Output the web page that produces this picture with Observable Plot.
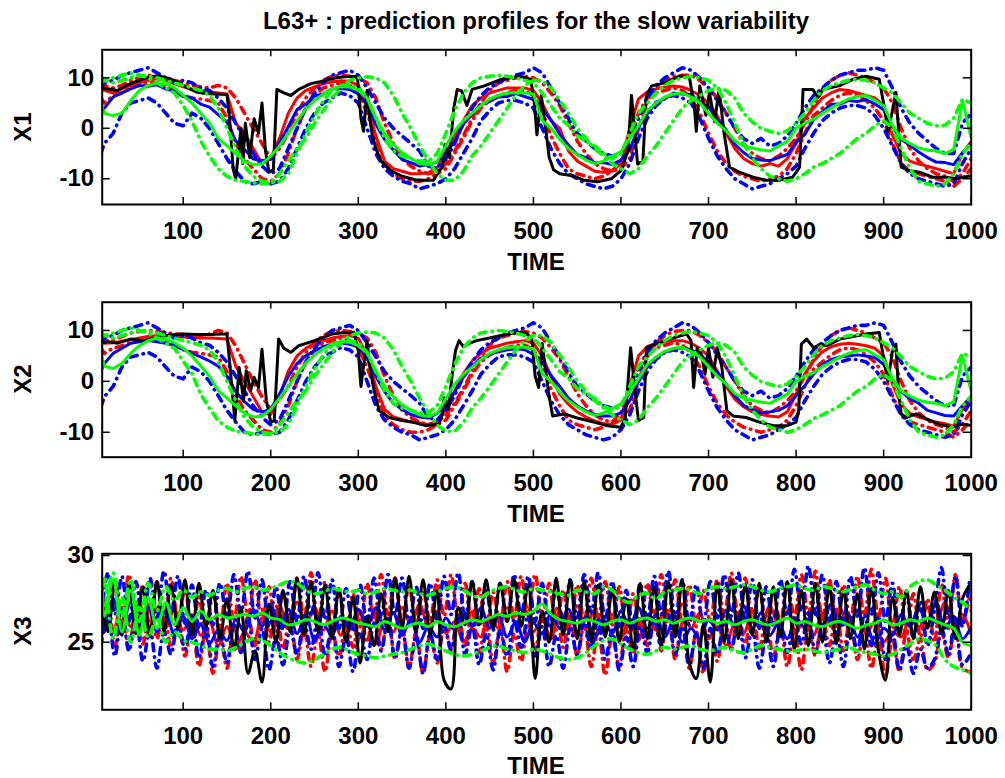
<!DOCTYPE html>
<html><head><meta charset="utf-8">
<script src="https://cdn.jsdelivr.net/npm/d3@7"></script>
<script src="https://cdn.jsdelivr.net/npm/@observablehq/plot@0.6"></script>
<style>
body{margin:0;background:#fff;}
#chart{position:relative;width:1005px;height:778px;font-family:"Liberation Sans",Arial,sans-serif;font-weight:bold;color:#000;overflow:hidden;}
.pl{position:absolute;left:0;}
.t{position:absolute;white-space:nowrap;font-size:24px;line-height:1;transform:translate(-50%,-50%);}
.yl{transform:translate(-50%,-50%) rotate(-90deg);}
</style></head><body>
<div id="chart">
  <div class="pl" id="p1" style="top:40px"></div>
  <div class="pl" id="p2" style="top:292px"></div>
  <div class="pl" id="p3" style="top:534px"></div>
  <div class="t" style="left:536px;top:21px">L63+ : prediction profiles for the slow variability</div>
  <div class="t yl" style="left:23px;top:127px">X1</div>
  <div class="t yl" style="left:23px;top:379px">X2</div>
  <div class="t yl" style="left:23px;top:631px">X3</div>
  <div class="t" style="left:536px;top:262px">TIME</div>
  <div class="t" style="left:536px;top:514px">TIME</div>
  <div class="t" style="left:536px;top:766px">TIME</div>
</div>
<script>
// ---------- tick labels ----------
const timeTicks = [100, 200, 300, 400, 500, 600, 700, 800, 900, 1000];
const x12Ticks = [-10, 0, 10];
const x3Ticks = [25, 30];

// sampling grids (times) of the prediction curves
const grid10 = [6, ...d3.range(10, 1001, 10)];
const grid8 = d3.range(6, 1001, 8);

// ---------- X1 ----------
const x1Truth = [[6,8],[15,7.8],[25,7.5],[35,8.5],[45,9.2],[55,9.8],[65,10.3],[75,10.2],[85,9.8],[95,9],[105,8],[115,7.2],[125,6.9],[135,6.8],[150,6.7],[153,2],[157,-8],[160,-10],[163,-5],[166,0],[168,-7],[171,1],[176,-5.8],[181,1.9],[186,-1],[190,5],[194,-4.5],[198,-8.7],[203,-8.2],[207,7.7],[215,7],[223,6.5],[232,7.7],[245,8.8],[260,9.4],[275,10],[290,10.3],[299,10.2],[303,2],[306,-0.6],[310,7.5],[313,2],[316,-1.3],[320,-4],[326,-6.5],[337,-8.4],[350,-9.5],[365,-10.2],[375,-10.3],[386,-10.3],[392,-8.5],[396,-7.7],[399,-3.2],[404,-5.8],[409,3.9],[413,7.7],[418,7.4],[424,4.5],[430,7.7],[444,8.4],[463,9.7],[485,10.3],[497,9.7],[501,5],[504,-1.3],[509,6.5],[514,0],[518,-5.8],[523,-8.2],[530,-9],[545,-9.4],[558,-10.3],[573,-10.6],[589,-10],[600,-8.4],[608,-4.5],[612,6.5],[616,-1.3],[619,-7.1],[625,-6.5],[629,6.5],[635,8.4],[650,9],[666,10.3],[678,10.3],[684,3.9],[686,-0.6],[690,8.4],[697,2.6],[701,7.1],[707,1.3],[712,7.7],[718,-1.3],[724,-7.7],[735,-8.7],[751,-9.7],[766,-10.3],[781,-10.3],[796,-9.7],[804,-7.7],[808,7.7],[819,7.7],[825,6.1],[830,7.7],[849,8.4],[865,9.7],[880,10.3],[895,9.7],[901,3.9],[905,-0.6],[909,2.6],[914,7.1],[920,-7.7],[930,-8.4],[941,-8.7],[956,-9.7],[971,-9.7],[983,-10],[1000,-9.4]];

const x1RedMean = [8,
 7.5, 7, 7.8, 8.5, 9, 9.5, 9.8, 9.5, 8.8, 8.2,
 7.8, 7.5, 7.2, 7, 6.8, 1, -1, -4, -7, -6,
 -2, 3, 6, 7.5, 8.2, 8.8, 9.2, 9.4, 9.3, 8.5,
 5, -1.5, -6.5, -8, -8.5, -9, -9, -8.8, -7.8, -5,
 -1.5, 1.5, 4.5, 6, 7, 7.5, 8, 8, 8, 7.5,
 5, 1.5, 0, -4.5, -6.5, -7.5, -8.5, -8.7, -8.5, -7,
 0, 5.8, 7.2, 7.8, 8.2, 8.4, 8.2, 7.5, 6.5, 5,
 2.5, -1, -4, -6, -7, -7.5, -7, -7.5, -6, -3,
 2, 4, 6, 7, 7.7, 7.5, 7, 6.5, 6, 4.5,
 -1.3, -5, -6.5, -7.1, -7.5, -8, -8.5, -9, -5, -2.6];
const x1RedHigh = [9,
 8.5, 8, 8.5, 9.5, 10, 10.5, 10.3, 10, 9.5, 9,
 8.5, 8.2, 8, 8.5, 8, 6, 3, 0, -3, -6,
 -4, -1, 3, 6, 8, 9.5, 10.3, 10.5, 10.3, 10,
 9, 6, 1, -3, -6, -7.5, -8.5, -9, -8.5, -7,
 -4.5, -1.5, 2, 5, 7.5, 9, 9.5, 10, 10.3, 10,
 9, 7, 4.5, 1, -2.5, -5, -7, -8, -8.5, -8,
 -6, 0, 5, 8, 9.5, 10.3, 10.5, 10.5, 9.5, 8,
 6, 3, 0, -3, -5, -6, -6.5, -5.5, -4, -2,
 1, 4.5, 7.5, 9.5, 10.5, 11, 10.5, 10, 9, 8,
 5, 0, -4, -6.5, -8, -9, -9.5, -10.5, -9, -6];
const x1RedLow = [6,
 5, 6.5, 7, 8, 8.5, 9, 9, 8.5, 7.5, 6.5,
 6, 5.8, 5.5, 5, 2, -3, -6, -8, -10, -10.5,
 -9, -5, 0, 4, 6.5, 8, 8.5, 9, 8.5, 7,
 3, -2, -7, -9, -10, -10.5, -10.5, -10, -9, -8,
 -5, -2, 1.5, 4, 5.5, 6.5, 7, 7.5, 7.5, 6.5,
 3.5, -1.5, -5, -8, -9, -9.5, -10, -9.5, -8.5, -6.5,
 -2, 3, 6, 7, 7.5, 8, 7.5, 6, 3, -1,
 -4.5, -7, -8.5, -9.5, -10, -10.5, -10, -9.5, -8, -5,
 -1, 2.5, 4, 5.5, 6.5, 7, 6.5, 5.5, 4, 1.5,
 -3, -7, -8.5, -9, -9.5, -10, -10.5, -11.5, -10, -8];
const x1BlueMean = [3,
 4, 6.2, 7, 7.8, 8.5, 8.3, 8.6, 7.8, 7.4, 6.3,
 6, 4.8, 4.2, 2.7, 1.2, -2.5, -4.2, -6.1, -6.4, -6.2,
 -2.8, 0.3, 3.7, 4.8, 6.4, 6.8, 7.8, 7.9, 7.7, 6.8,
 4.7, 0.8, -2.2, -4.3, -6.2, -6.8, -7.5, -7.2, -6.7, -4.8,
 -2.7, 0.8, 2.8, 4.7, 5.3, 6.2, 6.3, 6.9, 6.3, 5.7,
 3.8, 1.7, -1.2, -3.3, -5.2, -5.8, -6.9, -6.8, -7.2, -6.3,
 -4.2, 0.2, 2.8, 5.2, 5.8, 7, 6.8, 6.7, 5.3, 4.2,
 1.8, -0.3, -3.2, -4.8, -6, -6.3, -6.4, -5.8, -5.2, -2.8,
 -1.2, 1.7, 3.3, 4.7, 4.8, 5.5, 5.3, 5.7, 4.8, 3.7,
 0.3, -2.2, -3.3, -4.7, -5.8, -6.7, -6.8, -7.2, -4.8, -3.2];
const x1BlueHigh = [8,
 9, 9.5, 10.5, 11, 11.5, 12, 11, 10, 9, 9.5,
 9, 8, 7.5, 6, 4, 1, -2, -5, -7.5, -9,
 -8, -4, 0, 4, 7, 9, 10.5, 11, 11.5, 10.5,
 8, 5, 2, 0, -1.5, -3, -4.5, -7.5, -8, -6,
 -3, 1, 4, 6.5, 8, 9, 10, 10.5, 11, 12,
 11, 8, 5, 2, -1, -2.5, -4, -5, -5.5, -5,
 -2, 2, 6, 8.5, 10, 11, 12, 11.5, 10, 8,
 5.5, 3, 0, -2, -3, -2, -3.5, -3, -1.5, 1,
 4, 6.5, 8, 9.5, 10.5, 11, 11.5, 11.5, 12, 11.5,
 8, 4, 1, -1, -2.5, -4, -5, -5, 1, 3];
const x1BlueLow = [-5,
 -3, -1, 3, 5, 5.5, 6, 5, 3, 1, 0.5,
 3, 2, 0, -3, -6, -8.5, -10.5, -11, -10.5, -11,
 -10.5, -8, -4, 0, 3, 5, 6, 7, 6.5, 5,
 0, -5, -8, -9.5, -10.5, -11, -12, -11.5, -11, -10,
 -8, -5, -2, 1.5, 3.5, 5, 5.5, 5.5, 5, 4,
 0, -4, -7, -9, -10, -11, -11.5, -12, -11.5, -10,
 -7, -2, 2, 4.5, 6, 6.5, 6, 5, 2, -2,
 -5.5, -8, -10, -11, -12, -11.5, -11, -10, -9, -7.5,
 -4, -1, 1.5, 3, 4, 4.5, 4.5, 4, 2.5, 0,
 -3.5, -7, -9, -10, -10.5, -11, -11.5, -11, -7, -4];
const x1GreenMean = [5,
 3, 2.5, 3, 5.5, 7.5, 8.5, 9, 8.8, 8, 6.5,
 5, 3, 1, -2, -3.5, -5, -6.5, -7.2, -7, -5.5,
 -3.5, -1, 1.5, 3.8, 5.5, 6.8, 7.8, 8.3, 8.2, 7.5,
 6, 2, -1, -3.2, -4.8, -6, -7, -7.2, -6.5, -3.5,
 -0.5, 1.5, 3, 4.5, 5.8, 6.5, 7, 7.1, 7, 6.8,
 1.5, 0, -2.2, -4, -5.2, -6.3, -7, -6.5, -5.5, -4.6,
 -2, 0.5, 3.5, 5, 6.2, 6.8, 7, 6.2, 5, 3,
 1, -0.5, -2.5, -3.5, -3.9, -4.3, -4.5, -3.5, -2.6, 0,
 1, 1.8, 3, 4, 5, 5.8, 6.3, 6.5, 5.5, 4.5,
 0.6, -2, -3, -3.9, -4.3, -4.5, -5, -4.2, 5.5, -2];
const x1GreenHigh = [9,
 9.5, 10, 10.5, 11, 10.5, 10, 9, 8, 7, 4.5,
 1.5, -2.5, -5.5, -8, -9.5, -10.3, -10.5, -10.8, -11, -10.8,
 -9, -6.5, -4, -2, 1, 3.5, 6, 8, 9.5, 10,
 10.2, 10, 9, 6.5, 3, 0, -3.5, -6.5, -9, -10.3,
 -10.3, -8.5, -5.5, -3.5, -1, 1.5, 4, 6.5, 8.5, 9.5,
 9.5, 8, 5.5, 3, 0, -2, -4, -5.5, -7, -8,
 -9, -8, -5.5, -3.5, -1, 1.5, 4, 5.5, 6.5, 7.5,
 8, 7.5, 6, 3, 1.3, 0, -0.6, -1, -0.5, 1,
 3, 5.5, 7.5, 8.5, 9, 9.5, 9.7, 9.5, 9, 8,
 7, 5, 3, 2, 1, 0.5, 0.6, 2, 5.8, 5];
const x1GreenLow = [10,
 9.5, 9, 9.5, 10, 10.5, 10.3, 10, 9.5, 9, 8.5,
 8, 7.5, 6.5, 4, 0, -4, -7.5, -9.5, -10.5, -10.8,
 -10.5, -9, -5, -1, 2.5, 5.5, 7.5, 8.5, 8.5, 8,
 6, 2, -2, -4.5, -5.5, -6, -6.5, -6.5, -5, -1,
 3.5, 7, 9, 10, 10.3, 10.5, 10.3, 10, 9.5, 9,
 7, 4.5, 2, 0.6, -1.5, -2.6, -3.5, -5, -6, -5,
 -1, 3, 5, 7, 8.5, 9.5, 10, 10.3, 10, 9.5,
 8, 5, 1, -3, -6, -8, -9.5, -10, -10.5, -10,
 -9, -7.7, -7, -6, -5, -3.5, -2, -1, 0.5, 1.5,
 0, -4, -8, -10.5, -11, -11.5, -11, -9, -5, -3];

// ---------- X2 ----------
const x2Truth = [[6,7.5],[15,7.8],[25,7.5],[40,8.3],[55,8],[70,8.6],[85,9.1],[100,9.3],[115,9.2],[130,9.2],[145,9.3],[150,9.3],[154,2],[159,-7.7],[164,2.7],[169,-3.8],[172,2.1],[177,-1.8],[181,0.8],[186,-1.2],[190,6.3],[195,-3.8],[200,-8],[204,-7.7],[209,8.3],[215,6.5],[223,5.7],[232,7],[250,8],[270,9.3],[285,9.6],[295,9.6],[300,6],[303,-1],[306,3],[310,8],[313,3],[318,-1.8],[324,-5.8],[335,-7.1],[350,-7.7],[362,-8],[377,-8.7],[392,-8.4],[396,-6.5],[398,-3.2],[403,-5.4],[407,1],[411,6],[415,8],[420,6.8],[426,7.4],[435,8],[450,8.5],[463,9],[480,9.6],[490,9.6],[498,8.6],[502,1],[506,-1.2],[510,7.5],[514,2],[518,-3],[522,-6.8],[535,-6.4],[550,-7.2],[569,-8],[584,-8.7],[600,-9],[605,-7.1],[611,6.6],[616,-1.8],[620,-7.7],[626,-7.1],[629,6.6],[635,7],[650,8],[665,8.8],[675,9.3],[680,8],[683,-1.2],[687,6.6],[692,5.3],[696,1.4],[700,6.6],[705,0.8],[710,6.6],[715,3],[721,-5.8],[728,-6.8],[743,-7.1],[758,-8],[774,-8.7],[790,-8.7],[800,-8],[803,-5.8],[806,7.3],[812,8.3],[820,6.6],[827,7.3],[835,7],[850,8.3],[865,8.8],[880,9.3],[895,9.6],[901,3.4],[905,0],[910,5.9],[914,7.3],[917,-2],[920,-6.4],[926,-7.1],[937,-6.4],[948,-7.3],[963,-8.4],[979,-9],[990,-8.4],[1000,-8.7]];

const x2RedMean = [8,
 7.5, 7.6, 7.9, 8.2, 8.5, 8.8, 9, 9, 8.8, 8.7,
 8.6, 8.5, 8.5, 8.4, 8.3, 3, 0, -3, -6, -6.5,
 -3, 2, 5, 6.5, 7.5, 8, 8.5, 8.8, 9, 8.5,
 5, -1, -5.5, -7, -7.5, -8, -8.2, -8.5, -7.8, -5.5,
 -2, 1.5, 4, 5.5, 6.5, 7, 7.5, 7.8, 8, 7.5,
 5, 1, -2.5, -4.5, -6, -7, -7.8, -8.3, -8.5, -7.5,
 -1, 5, 6.8, 7.5, 7.8, 8, 8, 7.5, 6.5, 5,
 2, -1, -3.5, -5, -6, -6.5, -6.8, -7, -6, -2.5,
 1.5, 4, 5.8, 6.8, 7.3, 7.5, 7.3, 7, 6.5, 5,
 -0.5, -4.5, -6.3, -7, -7.5, -8, -8.3, -8.8, -5.5, -3];
const x2RedHigh = [8.5,
 8, 8.2, 8.8, 9.5, 9.8, 10, 9.8, 9.6, 9.3, 9.2,
 9, 9, 9.3, 10, 9.5, 7, 3.5, 0, -3, -5.5,
 -3.5, -1, 2.8, 5.7, 7.6, 9, 9.8, 10, 9.8, 9.5,
 8.5, 5.7, 1, -2.8, -5.7, -7.1, -8, -8.5, -8, -6.6,
 -4.3, -1.4, 1.9, 4.8, 7.1, 8.5, 9, 9.5, 9.8, 9.5,
 8.5, 6.6, 4.3, 1, -2.4, -4.8, -6.6, -7.6, -8, -7.6,
 -5.7, 0, 4.8, 7.6, 9, 9.8, 10, 10, 9, 7.6,
 5.7, 2.8, 0, -2.8, -4.8, -5.7, -6.2, -5.2, -3.8, -1.9,
 1, 4.3, 7.1, 9, 10, 10.5, 10, 9.5, 8.5, 7.6,
 4.8, 0, -3.8, -6.2, -7.6, -8.5, -9, -10, -8.5, -5.7];
const x2RedLow = [6.5,
 5.5, 6.5, 7, 7.6, 8, 8.5, 8.5, 8, 7.1, 6.2,
 5.7, 5.5, 5.2, 4.8, 1.9, -2.8, -5.7, -7.6, -9.5, -10,
 -8.5, -4.8, 0, 3.8, 6.2, 7.6, 8, 8.5, 8, 6.6,
 2.8, -1.9, -6.6, -8.5, -9.5, -10, -10, -9.5, -8.5, -7.6,
 -4.8, -1.9, 1.4, 3.8, 5.2, 6.2, 6.6, 7.1, 7.1, 6.2,
 3.3, -1.4, -4.8, -7.6, -8.5, -9, -9.5, -9, -8, -6.2,
 -1.9, 2.8, 5.7, 6.6, 7.1, 7.6, 7.1, 5.7, 2.8, -1,
 -4.3, -6.6, -8, -9, -9.5, -10, -9.5, -9, -7.6, -4.8,
 -1, 2.4, 3.8, 5.2, 6.2, 6.6, 6.2, 5.2, 3.8, 1.4,
 -2.8, -6.6, -8, -8.5, -9, -9.5, -10, -11, -9.5, -7.6];
const x2BlueMean = [2,
 3.5, 5.5, 6.5, 7.5, 7.8, 8, 7.8, 7.5, 7, 6.3,
 5.5, 4.8, 4, 3, 1, -2, -4, -5.5, -6, -5.5,
 -2.5, 1, 3.5, 5, 6, 6.8, 7.3, 7.6, 7.3, 6.8,
 4.5, 1, -2, -4.3, -5.5, -6.5, -7, -7.2, -6.3, -4.8,
 -2, 0.8, 3, 4.5, 5.3, 5.8, 6.2, 6.4, 6.2, 5.3,
 3.8, 1.2, -1, -3.3, -4.8, -5.8, -6.5, -6.8, -6.8, -6.2,
 -3.8, 0, 2.8, 4.7, 5.7, 6.4, 6.6, 6.2, 5.3, 3.8,
 1.8, -0.5, -2.8, -4.7, -5.5, -6.2, -6, -5.7, -4.8, -2.8,
 -0.8, 1.4, 3.3, 4.3, 4.8, 5, 5.2, 5, 4.7, 3.3,
 0.4, -2, -3.4, -4.3, -5.7, -6.2, -6.7, -6.8, -4.8, -3];
const x2BlueHigh = [7.5,
 8.5, 9, 10, 10.5, 11, 11.5, 10.5, 9.5, 8.5, 9,
 8.5, 7.6, 7.1, 5.7, 3.8, 1, -1.9, -4.8, -7.1, -8.5,
 -7.6, -3.8, 0, 3.8, 6.6, 8.5, 10, 10.5, 11, 10,
 7.6, 4.8, 1.9, 0, -1.4, -2.8, -4.3, -7.1, -7.6, -5.7,
 -2.8, 1, 3.8, 6.2, 7.6, 8.5, 9.5, 10, 10.5, 11.5,
 10.5, 7.6, 4.8, 1.9, -1, -2.4, -3.8, -4.8, -5.2, -4.8,
 -1.9, 1.9, 5.7, 8, 9.5, 10.5, 11.5, 11, 9.5, 7.6,
 5.2, 2.8, 0, -1.9, -2.8, -1.9, -3.3, -2.8, -1.4, 1,
 3.8, 6.2, 7.6, 9, 10, 10.5, 11, 11, 11.5, 11,
 7.6, 3.8, 1, -1, -2.4, -3.8, -4.8, -4.8, 1, 2.8];
const x2BlueLow = [-5,
 -3, -1, 2.8, 4.8, 5.2, 5.7, 4.8, 2.8, 1, 0.5,
 2.8, 1.9, 0, -2.8, -5.7, -8, -10, -10.5, -10, -10.5,
 -10, -7.6, -3.8, 0, 2.8, 4.8, 5.7, 6.6, 6.2, 4.8,
 0, -4.8, -7.6, -9, -10, -10.5, -11.5, -11, -10.5, -9.5,
 -7.6, -4.8, -1.9, 1.4, 3.3, 4.8, 5.2, 5.2, 4.8, 3.8,
 0, -3.8, -6.6, -8.5, -9.5, -10.5, -11, -11.5, -11, -9.5,
 -6.6, -1.9, 1.9, 4.3, 5.7, 6.2, 5.7, 4.8, 1.9, -1.9,
 -5.2, -7.6, -9.5, -10.5, -11.5, -11, -10.5, -9.5, -8.5, -7.1,
 -3.8, -1, 1.4, 2.8, 3.8, 4.3, 4.3, 3.8, 2.4, 0,
 -3.3, -6.6, -8.5, -9.5, -10, -10.5, -11, -10.5, -6.6, -3.8];
const x2GreenMean = [5.5,
 3, 2.5, 3.5, 5.5, 7, 8, 8.5, 8.3, 7.6, 6.5,
 5, 3, 1, -1.8, -3.3, -4.8, -6.2, -7, -6.8, -5.5,
 -3.3, -1, 1.4, 3.6, 5.2, 6.4, 7.3, 7.8, 7.7, 7,
 5.6, 2, -1, -3, -4.6, -5.7, -6.6, -6.9, -6.2, -3.4,
 -0.5, 1.4, 2.8, 4.3, 5.5, 6.2, 6.6, 6.8, 6.7, 6.4,
 1.5, 0, -2.1, -3.8, -5, -6, -6.7, -6.2, -5.3, -4.4,
 -2, 0.5, 3.3, 4.8, 5.9, 6.5, 6.7, 5.9, 4.8, 2.9,
 1, -0.5, -2.4, -3.3, -3.7, -4.1, -4.3, -3.4, -2.5, 0,
 1, 1.7, 2.9, 3.8, 4.8, 5.5, 6, 6.2, 5.2, 4.3,
 0.6, -1.9, -2.9, -3.7, -4.1, -4.3, -4.8, -4, 5, -2];
const x2GreenHigh = [9.5,
 9, 9.5, 10, 10.5, 10, 9.5, 8.5, 7.5, 6.5, 4,
 1.5, -2.5, -5.3, -7.7, -9, -9.8, -10, -10.3, -10.5, -10.3,
 -8.6, -6.2, -3.8, -1.9, 1, 3.3, 5.7, 7.6, 9, 9.5,
 9.7, 9.5, 8.5, 6.2, 2.9, 0, -3.3, -6.2, -8.6, -9.8,
 -9.8, -8.1, -5.2, -3.3, -1, 1.4, 3.8, 6.2, 8, 9,
 9, 7.6, 5.2, 2.8, 0, -1.9, -3.8, -5.2, -6.6, -7.6,
 -8.5, -7.6, -5.2, -3.3, -1, 1.4, 3.8, 5.2, 6.2, 7.1,
 7.6, 7.1, 5.7, 2.9, 1.2, 0, -0.6, -1, -0.5, 1,
 2.9, 5.2, 7.1, 8, 8.5, 9, 9.2, 9, 8.5, 7.6,
 6.6, 4.8, 2.9, 1.9, 1, 0.5, 0.6, 1.9, 5.5, 4.8];
const x2GreenLow = [9.5,
 9, 8.5, 9, 9.5, 10, 9.8, 9.5, 9, 8.5, 8,
 7.6, 7.1, 6.2, 3.8, 0, -3.8, -7.1, -9, -10, -10.3,
 -10, -8.5, -4.8, -1, 2.4, 5.2, 7.1, 8, 8, 7.6,
 5.7, 1.9, -1.9, -4.3, -5.2, -5.7, -6.2, -6.2, -4.8, -1,
 3.3, 6.6, 8.5, 9.5, 9.8, 10, 9.8, 9.5, 9, 8.5,
 6.6, 4.3, 1.9, 0.6, -1.4, -2.5, -3.3, -4.8, -5.7, -4.8,
 -1, 2.9, 4.8, 6.6, 8, 9, 9.5, 9.8, 9.5, 9,
 7.6, 4.8, 1, -2.9, -5.7, -7.6, -9, -9.5, -10, -9.5,
 -8.5, -7.3, -6.6, -5.7, -4.8, -3.3, -1.9, -1, 0.5, 1.4,
 0, -3.8, -7.6, -10, -10.5, -11, -10.5, -8.5, -4.8, -2.9];

// ---------- X3 ----------
const x3Truth = [27.8, 25.6, 28.3, 25.4, 28.4, 25.5, 28.2, 25.3, 28.5, 25.6,
 28.3, 25.8, 28.6, 25.4, 28.4, 25.9, 28.0, 25.2, 27.5, 24.6,
 27.0, 23.2, 24.5, 22.7, 27.2, 25.0, 28.0, 25.6, 28.7, 25.4,
 28.5, 25.6, 28.3, 25.2, 28.1, 25.0, 27.6, 23.8, 26.5, 24.8,
 27.8, 25.6, 28.7, 25.8, 28.8, 25.6, 28.6, 25.4, 28.0, 22.8,
 22.3, 27.0, 26.0, 28.5, 26.0, 28.6, 25.8, 28.4, 26.2, 28.6,
 25.9, 28.3, 22.9, 26.8, 25.0, 28.7, 25.4, 28.6, 25.2, 28.5,
 25.0, 28.3, 25.3, 28.0, 25.0, 27.5, 24.6, 28.4, 25.2, 28.2,
 24.8, 28.5, 25.3, 28.6, 23.8, 22.9, 26.0, 22.7, 28.4, 25.0,
 28.6, 25.2, 28.3, 25.4, 28.4, 25.0, 28.2, 25.3, 28.5, 24.6,
 28.0, 24.8, 28.4, 25.0, 28.2, 24.9, 28.0, 25.2, 27.8, 24.6,
 28.1, 24.5, 22.8, 27.6, 25.4, 28.0, 25.2, 28.2, 25.8, 27.9,
 25.5, 28.0, 25.2, 27.5, 28.3];
const x3RedMean = [28.0,
 26.8, 25.6, 27.4, 25.9, 27.2, 25.5, 27.0, 25.8, 26.9, 25.7,
 26.6, 25.4, 26.2, 24.8, 25.9, 24.6, 25.6, 25.0, 26.4, 25.6,
 27.1, 25.8, 27.3, 26.0, 27.0, 25.7, 26.8, 25.4, 26.5, 25.2,
 26.0, 24.9, 26.3, 25.6, 27.0, 26.0, 27.2, 25.9, 26.8, 25.5,
 26.2, 25.0, 25.8, 25.3, 26.6, 25.8, 27.0, 26.1, 26.9, 25.6,
 26.4, 25.2, 26.8, 25.9, 27.1, 25.8, 26.9, 25.6, 26.6, 25.3,
 26.0, 25.1, 26.5, 25.7, 26.9, 25.9, 27.2, 25.8, 26.7, 25.2,
 25.9, 24.8, 26.1, 25.5, 26.8, 25.9, 27.1, 26.0, 26.8, 25.6,
 26.3, 25.4, 26.7, 25.9, 27.0, 25.8, 26.8, 25.5, 26.2, 25.0,
 25.6, 25.3, 26.4, 25.8, 27.0, 26.1, 27.3, 26.0, 26.6, 25.4];
const x3RedHigh = [28.8, 26.2, 28.6, 26.0, 28.9, 26.4, 28.3, 25.8, 28.5, 26.1,
 28.7, 26.3, 28.0, 25.5, 27.6, 25.2, 27.9, 25.8, 28.4, 26.2,
 28.8, 26.5, 28.6, 26.0, 28.2, 25.6, 27.9, 26.1, 28.7, 26.4,
 29.0, 26.2, 28.5, 25.7, 28.0, 25.4, 27.8, 25.9, 28.4, 26.3,
 28.9, 26.6, 28.7, 26.1, 28.3, 25.8, 28.0, 26.2, 28.6, 26.5,
 28.9, 26.3, 28.4, 25.9, 28.1, 25.6, 27.9, 26.0, 28.5, 26.4,
 28.8, 26.6, 28.9, 26.2, 28.4, 25.7, 28.0, 25.9, 28.3, 26.2,
 28.7, 26.4, 28.5, 26.0, 28.2, 25.6, 27.8, 25.8, 28.4, 26.3,
 28.9, 26.5, 28.6, 26.1, 28.3, 25.9, 28.0, 26.2, 28.6, 26.5,
 29.0, 26.4, 28.7, 26.0, 28.2, 25.7, 28.0, 26.1, 28.5, 26.4,
 28.9, 26.6, 29.1, 26.3, 28.6, 25.9, 28.3, 26.2, 28.8, 26.5,
 29.2, 26.4, 28.7, 25.8, 28.2, 25.5, 27.8, 25.3, 27.5, 25.0,
 28.4, 25.8, 28.9, 26.2, 27.6];
const x3RedLow = [25.5, 27.4, 24.8, 27.0, 24.6, 26.8, 24.9, 27.2, 25.2, 26.9,
 24.7, 26.4, 24.2, 26.0, 23.6, 25.8, 23.2, 25.4, 23.5, 25.9,
 24.4, 26.5, 24.8, 26.9, 25.0, 27.1, 24.6, 26.6, 24.0, 25.8,
 23.6, 25.5, 23.3, 25.6, 24.2, 26.3, 24.7, 26.8, 25.0, 26.9,
 24.6, 26.4, 24.0, 25.9, 23.5, 25.6, 23.2, 25.4, 23.8, 26.0,
 24.5, 26.6, 24.8, 26.9, 24.4, 26.3, 23.8, 25.9, 23.3, 25.5,
 23.9, 26.1, 24.6, 26.7, 25.0, 27.0, 24.7, 26.5, 24.2, 26.0,
 23.6, 25.7, 23.1, 25.4, 23.6, 25.9, 24.3, 26.4, 24.8, 26.8,
 24.5, 26.6, 24.0, 26.1, 23.5, 25.6, 23.2, 25.7, 23.9, 26.2,
 24.6, 26.7, 24.9, 27.0, 24.6, 26.5, 24.1, 26.0, 23.6, 25.6,
 23.4, 25.9, 24.2, 26.5, 24.8, 26.9, 24.5, 26.4, 24.0, 25.8,
 23.5, 25.4, 23.0, 25.2, 23.3, 25.6, 24.0, 25.2, 23.4, 23.8,
 25.6, 24.1, 26.2, 23.5, 23.3];
const x3BlueMean = [27.2,
 25.6, 27.5, 25.9, 27.3, 26.0, 27.0, 25.6, 26.8, 25.4, 26.5,
 25.2, 26.0, 24.9, 25.7, 25.1, 26.3, 25.6, 26.9, 25.9, 27.1,
 25.8, 26.9, 25.5, 26.6, 25.1, 26.0, 25.4, 26.5, 25.8, 26.9,
 25.9, 27.0, 25.7, 26.7, 25.4, 26.3, 25.0, 25.9, 25.3, 26.4,
 25.7, 26.8, 25.9, 27.0, 25.8, 26.6, 25.3, 26.2, 25.0, 26.1,
 25.5, 26.7, 25.8, 26.9, 25.6, 26.5, 25.2, 26.3, 25.5, 26.8,
 25.9, 27.0, 25.8, 26.6, 25.3, 26.2, 25.0, 25.8, 25.2, 26.3,
 25.7, 26.8, 25.9, 27.1, 25.8, 26.7, 25.4, 26.1, 25.2, 26.4,
 25.8, 26.9, 26.0, 27.2, 25.9, 26.6, 25.3, 26.0, 24.9, 25.8,
 25.4, 26.6, 25.9, 27.0, 26.0, 27.3, 25.8, 26.5, 25.2, 25.9];
const x3BlueHigh = [26.3, 29.0, 26.6, 28.8, 26.2, 28.5, 25.9, 28.7, 26.4, 29.1,
 26.6, 28.8, 26.1, 28.3, 25.8, 28.0, 26.0, 28.4, 26.5, 28.9,
 26.7, 29.1, 26.4, 28.6, 25.9, 28.2, 25.7, 28.5, 26.2, 28.8,
 26.5, 29.0, 26.3, 28.6, 25.8, 28.1, 25.6, 28.3, 26.1, 28.7,
 26.4, 28.9, 26.6, 28.7, 26.1, 28.2, 25.8, 28.4, 26.3, 28.8,
 26.6, 29.0, 26.4, 28.5, 25.9, 28.1, 25.7, 28.4, 26.2, 28.9,
 26.5, 28.8, 26.2, 28.4, 25.8, 28.2, 26.0, 28.6, 26.4, 28.9,
 26.7, 29.0, 26.3, 28.5, 25.9, 28.0, 25.8, 28.4, 26.3, 28.8,
 26.6, 29.1, 26.4, 28.6, 26.0, 28.3, 25.9, 28.5, 26.4, 28.9,
 26.5, 29.0, 26.2, 28.6, 25.8, 28.2, 25.9, 28.6, 26.5, 29.2,
 26.8, 29.4, 26.6, 28.9, 26.1, 28.5, 26.0, 28.8, 26.5, 29.3,
 26.6, 29.0, 26.2, 28.4, 25.6, 27.8, 25.2, 27.4, 24.8, 26.8,
 29.3, 26.4, 28.8, 25.9, 28.5];
const x3BlueLow = [24.8, 26.6, 24.2, 26.9, 24.5, 26.4, 23.9, 25.8, 23.5, 25.6,
 24.3, 26.2, 24.6, 26.5, 24.1, 25.9, 23.6, 25.5, 23.8, 26.0,
 24.4, 26.4, 24.0, 25.8, 23.4, 25.3, 23.7, 25.8, 24.3, 26.2,
 24.6, 26.5, 24.2, 25.9, 23.6, 25.4, 23.3, 25.6, 24.0, 26.1,
 24.5, 26.4, 24.1, 25.8, 23.5, 25.3, 23.2, 25.5, 24.0, 26.0,
 24.6, 26.5, 24.3, 26.0, 23.7, 25.5, 23.4, 25.7, 24.2, 26.3,
 24.7, 26.6, 24.2, 25.9, 23.6, 25.4, 23.5, 25.8, 24.3, 26.2,
 24.6, 26.4, 24.0, 25.7, 23.4, 25.3, 23.6, 25.9, 24.4, 26.3,
 24.8, 26.6, 24.3, 25.9, 23.7, 25.5, 23.5, 25.8, 24.3, 26.2,
 24.6, 26.5, 24.1, 25.8, 23.5, 25.4, 23.6, 25.9, 24.4, 26.4,
 24.9, 26.7, 24.4, 26.0, 23.8, 25.6, 23.6, 26.0, 24.5, 26.6,
 24.8, 26.5, 24.0, 25.6, 23.4, 24.8, 23.2, 24.6, 23.5, 24.0,
 25.8, 24.3, 26.4, 23.7, 24.2];
const x3GreenMean = [28.5,
 26.5, 28.6, 25.6, 28.0, 25.4, 27.6, 25.8, 27.3, 26.0, 27.0,
 26.2, 26.8, 26.3, 26.6, 26.4, 26.5, 26.6, 26.5, 26.7, 26.4,
 26.3, 26.0, 26.1, 26.3, 26.2, 26.0, 26.2, 26.4, 26.3, 26.1,
 26.0, 25.9, 26.2, 26.0, 25.8, 26.0, 26.1, 25.9, 26.2, 26.0,
 25.9, 26.1, 26.3, 26.2, 26.4, 26.6, 26.5, 26.7, 26.6, 26.8,
 27.2, 26.6, 26.3, 26.2, 26.1, 26.3, 26.2, 26.0, 26.2, 26.3,
 26.1, 26.3, 26.4, 26.2, 26.3, 26.1, 26.3, 26.4, 26.2, 26.3,
 26.1, 26.2, 26.0, 26.2, 26.3, 26.1, 26.0, 26.2, 26.4, 26.1,
 26.2, 26.0, 25.9, 26.1, 26.2, 26.0, 25.8, 26.0, 26.1, 26.3,
 26.0, 26.1, 26.3, 26.2, 26.4, 26.2, 26.0, 25.8, 25.0, 24.8];
const x3GreenHigh = [29.0,
 27.0, 29.0, 26.5, 28.6, 26.2, 28.4, 26.8, 28.2, 27.4, 28.0,
 27.6, 27.9, 27.7, 28.0, 28.1, 27.9, 28.1, 28.2, 28.0, 28.1,
 28.3, 28.5, 28.4, 28.0, 27.8, 27.9, 28.1, 28.0, 27.9, 28.0,
 27.8, 27.9, 28.1, 28.0, 27.9, 28.0, 27.8, 27.7, 27.9, 28.1,
 28.2, 28.0, 27.7, 27.6, 27.9, 28.1, 28.2, 28.0, 27.9, 28.1,
 28.0, 27.9, 27.8, 27.7, 28.0, 27.9, 27.8, 28.2, 28.0, 27.5,
 27.3, 27.7, 27.8, 27.5, 27.9, 28.0, 28.1, 28.0, 27.8, 28.1,
 28.2, 28.1, 28.2, 28.3, 28.2, 28.0, 27.9, 28.1, 28.2, 28.3,
 28.1, 28.0, 28.2, 28.1, 27.9, 28.0, 28.2, 28.3, 28.0, 27.8,
 27.9, 27.6, 28.2, 28.5, 28.6, 28.3, 28.0, 27.6, 27.3, 26.8];
const x3GreenLow = [26.0,
 28.8, 25.2, 27.6, 25.0, 27.0, 25.3, 26.4, 25.0, 25.6, 25.1,
 25.0, 24.8, 24.6, 24.6, 24.5, 24.7, 25.0, 25.2, 25.1, 24.8,
 24.4, 24.1, 23.9, 23.8, 24.0, 24.3, 24.6, 24.7, 24.5, 24.3,
 24.2, 24.1, 24.2, 24.3, 24.4, 24.6, 24.8, 24.9, 24.7, 24.5,
 24.3, 24.2, 24.3, 24.5, 24.7, 24.8, 24.6, 24.5, 24.4, 24.6,
 24.5, 24.3, 24.1, 24.0, 24.1, 24.4, 24.8, 25.1, 25.2, 24.9,
 24.6, 24.4, 24.3, 24.5, 24.7, 24.6, 24.7, 24.8, 24.6, 24.5,
 24.6, 24.7, 24.5, 24.4, 24.6, 24.8, 24.7, 24.6, 24.5, 24.5,
 24.6, 24.5, 24.4, 24.5, 24.6, 24.7, 24.5, 24.4, 24.3, 24.2,
 24.3, 24.6, 24.9, 25.2, 25.1, 24.8, 24.0, 23.6, 23.4, 23.2];

// ---------- helpers ----------
const zip = (ts, vs) => vs.map((v, i) => ({t: ts[i], v})).filter(d => d.t != null);
const pairs = ps => ps.map(([t, v]) => ({t, v}));
const RED = "#ff0000", BLUE = "#0000ff", GREEN = "#00ff00", BLACK = "#000000";
const DD = "7,6,0.5,6";
const FONT = "'Liberation Sans', Arial, Helvetica, sans-serif";

function panel(series, {ydom, yticks, height, mt, mb}) {
  const W = 1005, ML = 101.7, MR = 34.3;
  const fh = height - mt - mb, fw = W - ML - MR;
  const lines = series.map(s => Plot.line(s.data, {
    x: "t", y: "v", stroke: s.stroke,
    strokeWidth: s.dash ? 3.6 : 3,
    strokeDasharray: s.dash ? DD : null,
    strokeLinecap: s.dash ? "round" : "butt",
    curve: s.curve || "linear",
    clip: true
  }));
  return Plot.plot({
    width: W, height, marginTop: mt, marginBottom: mb, marginLeft: ML, marginRight: MR,
    x: {domain: [7.5, 1000]},
    y: {domain: ydom},
    style: {fontFamily: FONT, fontSize: "24px", fontWeight: "bold", background: "transparent", color: "#000"},
    marks: [
      ...lines,
      Plot.frame({stroke: BLACK, strokeWidth: 2}),
      Plot.ruleX(timeTicks, {x: d => d, insetTop: fh - 7, stroke: BLACK, strokeWidth: 1.5}),
      Plot.ruleX(timeTicks, {x: d => d, insetBottom: fh - 7, stroke: BLACK, strokeWidth: 1.5}),
      Plot.ruleY(yticks, {y: d => d, insetRight: fw - 8, stroke: BLACK, strokeWidth: 1.5}),
      Plot.ruleY(yticks, {y: d => d, insetLeft: fw - 8, stroke: BLACK, strokeWidth: 1.5}),
      Plot.axisX({ticks: timeTicks, tickSize: 0, tickPadding: 17, tickFormat: d => String(d), label: null, fontSize: 24}),
      Plot.axisY({ticks: yticks, tickSize: 0, tickPadding: 8, tickFormat: d => String(d), label: null, fontSize: 24})
    ]
  });
}

// draw order: red, blue, black truth, green
function groupSeries(truth, r, rh, rl, b, bh, bl, g, gh, gl, grids, curve) {
  const [gRm, gRd, gB, gBd, gG] = grids;
  return [
    {data: zip(gRm, r), stroke: RED, curve},
    {data: zip(gRd, rh), stroke: RED, dash: true, curve},
    {data: zip(gRd, rl), stroke: RED, dash: true, curve},
    {data: zip(gB, b), stroke: BLUE, curve},
    {data: zip(gBd, bh), stroke: BLUE, dash: true, curve},
    {data: zip(gBd, bl), stroke: BLUE, dash: true, curve},
    {data: truth, stroke: BLACK, curve},
    {data: zip(gG, g), stroke: GREEN, curve},
    {data: zip(gG, gh), stroke: GREEN, dash: true, curve},
    {data: zip(gG, gl), stroke: GREEN, dash: true, curve}
  ];
}

const g12 = [grid10, grid10, grid10, grid10, grid10];
const s1 = groupSeries(pairs(x1Truth), x1RedMean, x1RedHigh, x1RedLow, x1BlueMean, x1BlueHigh, x1BlueLow, x1GreenMean, x1GreenHigh, x1GreenLow, g12, "linear");
const s2 = groupSeries(pairs(x2Truth), x2RedMean, x2RedHigh, x2RedLow, x2BlueMean, x2BlueHigh, x2BlueLow, x2GreenMean, x2GreenHigh, x2GreenLow, g12, "linear");
const s3 = groupSeries(zip(grid8, x3Truth), x3RedMean, x3RedHigh, x3RedLow, x3BlueMean, x3BlueHigh, x3BlueLow, x3GreenMean, x3GreenHigh, x3GreenLow, [grid10, grid8, grid10, grid8, grid10], "catmull-rom");

document.getElementById("p1").append(panel(s1, {ydom: [-15.1, 15.55], yticks: x12Ticks, height: 252, mt: 9.3, mb: 88}));
document.getElementById("p2").append(panel(s2, {ydom: [-14.9, 15.55], yticks: x12Ticks, height: 242, mt: 9.7, mb: 77.3}));
document.getElementById("p3").append(panel(s3, {ydom: [21.1, 30.1], yticks: x3Ticks, height: 244, mt: 19.3, mb: 68.7}));
</script>
</body></html>
